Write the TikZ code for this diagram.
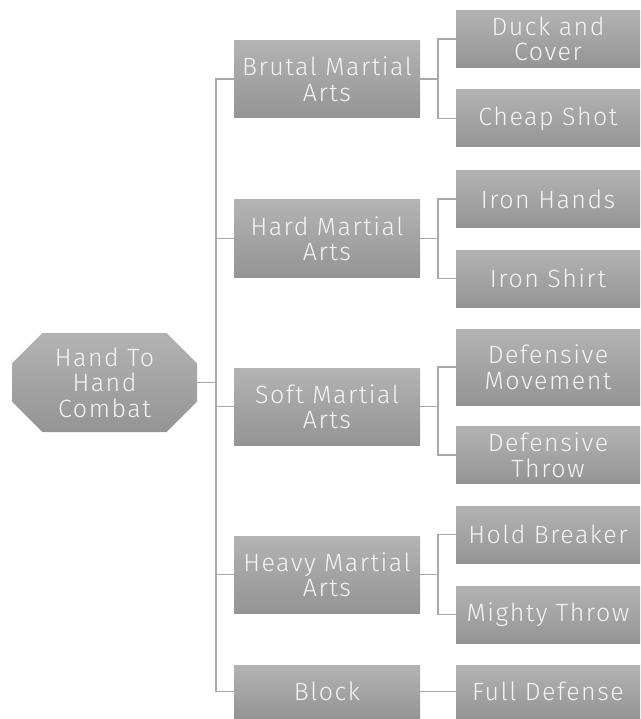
\documentclass[tikz,border=0pt]{standalone}
\usepackage{fontspec}
\setmainfont{Fira Sans Light}[LetterSpace=6]
\usepackage{tikz}
\usetikzlibrary{shapes.misc}
\usepackage{xcolor}
\definecolor{boxTop}{HTML}{B3B3B3}
\definecolor{boxBottom}{HTML}{949494}
\definecolor{linkGray}{HTML}{A9A9A9}
\definecolor{labelWhite}{HTML}{F4F4F4}

\tikzset{
    grayBox/.style={top color=boxTop, bottom color=boxBottom, draw=none,
        text=labelWhite, align=center, inner sep=0pt,
        font=\fontsize{25}{25.5}\selectfont},
    mainBox/.style={grayBox, minimum width=186pt, minimum height=77pt},
    subBox/.style={grayBox, minimum width=184pt, minimum height=57pt},
    link/.style={draw=linkGray, line width=1.6pt}
}

\begin{document}
\begin{tikzpicture}[x=1pt, y=-1pt]
                \useasboundingbox (0,0) rectangle (640,719);
                \node[grayBox, chamfered rectangle, chamfered rectangle xsep=27pt,
                    minimum width=185pt, minimum height=99pt] (combat) at (104.5,382.5)
                    {Hand To\\Hand\\Combat};
                \node[mainBox] (brutal) at (327,79) {Brutal Martial\\Arts};
                \node[mainBox] (hard) at (327,238.5) {Hard Martial\\Arts};
                \node[mainBox] (soft) at (327,406.5) {Soft Martial\\Arts};
                \node[mainBox] (heavy) at (327,574.5) {Heavy Martial\\Arts};
                \node[mainBox, minimum height=53pt] (block) at (327,691.5) {Block};
                \node[subBox] (duck) at (548,39) {Duck and\\Cover};
                \node[subBox] (cheap) at (548,118.5) {Cheap Shot};
                \node[subBox] (ironHands) at (548,199) {Iron Hands};
                \node[subBox] (ironShirt) at (548,278.5) {Iron Shirt};
                \node[subBox, minimum height=76pt] (defMove) at (548,367) {Defensive\\Movement};
                \node[subBox] (defThrow) at (548,455) {Defensive\\Throw};
                \node[subBox] (holdBreaker) at (548,534.5) {Hold Breaker};
                \node[subBox] (mightyThrow) at (548,614.5) {Mighty Throw};
                \node[subBox, minimum height=53pt] (fullDefense) at (548,691.5) {Full Defense};
                \foreach \branch in {brutal,hard,soft,heavy,block}
                    \draw[link] (combat.east) -- ++(19,0) |- (\branch.west);
                \foreach \parentBox/\firstLeaf/\secondLeaf in {brutal/duck/cheap,
                    hard/ironHands/ironShirt, soft/defMove/defThrow,
                    heavy/holdBreaker/mightyThrow}{
                    \draw[link] (\parentBox.east) -- ++(18,0) |- (\firstLeaf.west);
                    \draw[link] (\parentBox.east) -- ++(18,0) |- (\secondLeaf.west);
                }
                \draw[link] (block) -- (fullDefense);
            \end{tikzpicture}
\end{document}
